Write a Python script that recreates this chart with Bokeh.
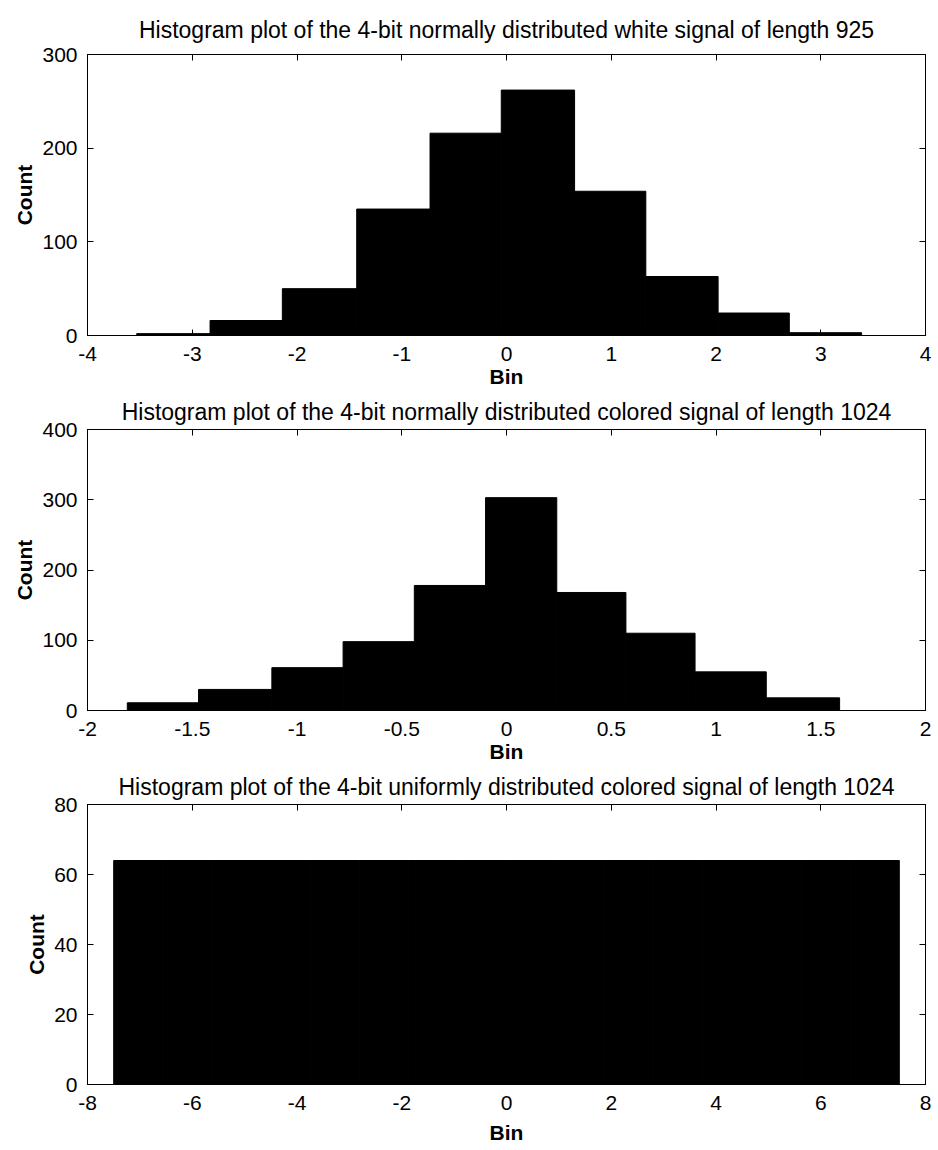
from bokeh.plotting import figure
from bokeh.layouts import column
from bokeh.models import LinearAxis, FixedTicker, CustomJSTickFormatter, Range1d
from bokeh.embed import file_html
from bokeh.resources import INLINE

# ---- Panel 1: normally distributed white signal (length 925)
white_edges = [-3.53, -2.83, -2.14, -1.43, -0.73, -0.05, 0.65, 1.33, 2.02, 2.70, 3.39]
white_counts = [2, 16, 50, 135, 216, 262, 154, 63, 24, 3]
white_xticks = [-4, -3, -2, -1, 0, 1, 2, 3, 4]
white_yticks = [0, 100, 200, 300]

# ---- Panel 2: normally distributed colored signal (length 1024)
cn_edges = [-1.81, -1.47, -1.12, -0.78, -0.44, -0.10, 0.24, 0.57, 0.90, 1.24, 1.59]
cn_counts = [11, 30, 61, 98, 178, 303, 168, 110, 55, 18]
cn_xticks = [-2, -1.5, -1, -0.5, 0, 0.5, 1, 1.5, 2]
cn_yticks = [0, 100, 200, 300, 400]

# ---- Panel 3: uniformly distributed colored signal (length 1024)
cu_edges = [-7.5, -6.5625, -5.625, -4.6875, -3.75, -2.8125, -1.875, -0.9375, 0.0,
            0.9375, 1.875, 2.8125, 3.75, 4.6875, 5.625, 6.5625, 7.5]
cu_counts = [64, 64, 64, 64, 64, 64, 64, 64, 64, 64, 64, 64, 64, 64, 64, 64]
cu_xticks = [-8, -6, -4, -2, 0, 2, 4, 6, 8]
cu_yticks = [0, 20, 40, 60, 80]

titles = [
    "Histogram plot of the 4-bit normally distributed white signal of length 925",
    "Histogram plot of the 4-bit normally distributed colored signal of length 1024",
    "Histogram plot of the 4-bit uniformly distributed colored signal of length 1024",
]

FONT = "Liberation Sans"
TICK_SIZE = "21px"
LABEL_SIZE = "21px"
TITLE_SIZE = "23px"


def style_axis(ax, ticks, show_labels, standoff):
    ax.ticker = FixedTicker(ticks=ticks)
    ax.major_tick_in = 6
    ax.major_tick_out = 0
    ax.minor_tick_line_color = None
    ax.axis_line_color = "black"
    ax.major_tick_line_color = "black"
    ax.major_label_text_font = FONT
    ax.major_label_text_font_size = TICK_SIZE
    ax.major_label_text_color = "black"
    if show_labels:
        ax.major_label_overrides = {t: "%g" % t for t in ticks}
        ax.major_label_standoff = standoff
    else:
        ax.formatter = CustomJSTickFormatter(code="return ''")
        ax.major_label_standoff = 0


def panel(title, edges, counts, xr, xticks, yr, yticks,
          top_b, frame_h, bottom_b, t_standoff, bin_standoff):
    p = figure(frame_width=838, frame_height=frame_h,
               x_range=Range1d(*xr), y_range=Range1d(*yr),
               min_border_left=87, min_border_right=13,
               min_border_top=top_b, min_border_bottom=bottom_b,
               output_backend="svg", toolbar_location=None,
               background_fill_color="white", border_fill_color="white")
    p.quad(left=edges[:-1], right=edges[1:], top=counts, bottom=0,
           fill_color="black", line_color="black")
    p.xgrid.visible = False
    p.ygrid.visible = False
    p.outline_line_color = "black"
    p.outline_line_alpha = 1.0

    style_axis(p.xaxis[0], xticks, True, 11)
    style_axis(p.yaxis[0], yticks, True, 10)
    p.xaxis[0].axis_label = "Bin"
    p.yaxis[0].axis_label = "Count"
    for ax in (p.xaxis[0], p.yaxis[0]):
        ax.axis_label_text_font = FONT
        ax.axis_label_text_font_size = LABEL_SIZE
        ax.axis_label_text_font_style = "bold"
        ax.axis_label_text_color = "black"
    p.xaxis[0].axis_label_standoff = bin_standoff
    p.yaxis[0].axis_label_standoff = 3

    top_ax = LinearAxis()
    style_axis(top_ax, xticks, False, 0)
    p.add_layout(top_ax, "above")
    right_ax = LinearAxis()
    style_axis(right_ax, yticks, False, 0)
    p.add_layout(right_ax, "right")

    p.title.text = title
    p.title.align = "center"
    p.title.text_font = FONT
    p.title.text_font_size = TITLE_SIZE
    p.title.text_font_style = "normal"
    p.title.text_color = "black"
    p.title.standoff = t_standoff
    return p


p1 = panel(titles[0], white_edges, white_counts, (-4, 4), white_xticks, (0, 300), white_yticks,
           54, 281, 54, 24, 1)
p2 = panel(titles[1], cn_edges, cn_counts, (-2, 2), cn_xticks, (0, 400), cn_yticks,
           39, 281, 54, 9, 1)
p3 = panel(titles[2], cu_edges, cu_counts, (-8, 8), cu_xticks, (0, 80), cu_yticks,
           39, 280, 68, 9, 8)

layout = column(p1, p2, p3, spacing=0)
open("out.html", "w").write(file_html(layout, INLINE))
